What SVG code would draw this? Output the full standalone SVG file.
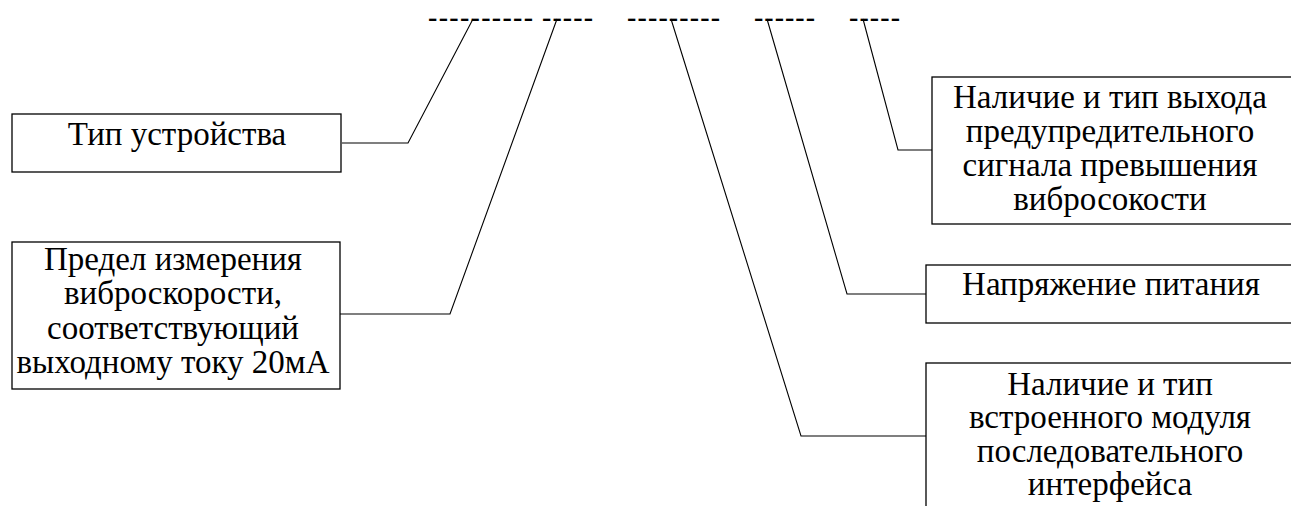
<svg xmlns="http://www.w3.org/2000/svg" width="1291" height="506" viewBox="0 0 1291 506">
<style>
.box{fill:#fff;stroke:#000;stroke-width:1.3}
.t{font-family:"Liberation Serif","Times New Roman",serif;font-size:33px;fill:#000;text-anchor:middle}
.d{font-family:"Liberation Serif","Times New Roman",serif;font-size:28px;fill:#000;font-weight:bold}
.c{fill:none;stroke:#000;stroke-width:1.1}
</style>
<rect width="1291" height="506" fill="#fff"/>
<g id="code">
<text class="d" x="428" y="26" textLength="105" lengthAdjust="spacing">----------</text>
<text class="d" x="542" y="26" textLength="51" lengthAdjust="spacing">-----</text>
<text class="d" x="627" y="26" textLength="93" lengthAdjust="spacing">---------</text>
<text class="d" x="754" y="26" textLength="61" lengthAdjust="spacing">------</text>
<text class="d" x="849" y="26" textLength="51" lengthAdjust="spacing">-----</text>
</g>
<g id="connectors">
<polyline class="c" points="342,143 408,143 473,19"/>
<polyline class="c" points="340,314 450,314 557,19"/>
<polyline class="c" points="932,150 898,150 863,19"/>
<polyline class="c" points="926,294 847,294 767,19"/>
<polyline class="c" points="926,436 801,436 671,19"/>
</g>
<g id="n1">
<rect class="box" x="12" y="114" width="329" height="58"/>
<text class="t" x="177" y="145">Тип устройства</text>
</g>
<g id="n2">
<rect class="box" x="12" y="242" width="328" height="147"/>
<text class="t" x="173" y="270">Предел измерения</text>
<text class="t" x="173" y="304">виброскорости,</text>
<text class="t" x="173" y="339">соответствующий</text>
<text class="t" x="173" y="373">выходному току 20мА</text>
</g>
<g id="n3">
<rect class="box" x="932" y="77" width="370" height="147"/>
<text class="t" x="1110" y="108">Наличие и тип выхода</text>
<text class="t" x="1110" y="142">предупредительного</text>
<text class="t" x="1110" y="176">сигнала превышения</text>
<text class="t" x="1110" y="210">вибросокости</text>
</g>
<g id="n4">
<rect class="box" x="926" y="265" width="376" height="58"/>
<text class="t" x="1111" y="295">Напряжение питания</text>
</g>
<g id="n5">
<rect class="box" x="926" y="363" width="376" height="160"/>
<text class="t" x="1110" y="395">Наличие и тип</text>
<text class="t" x="1110" y="428">встроенного модуля</text>
<text class="t" x="1110" y="462">последовательного</text>
<text class="t" x="1110" y="495">интерфейса</text>
</g>
</svg>
